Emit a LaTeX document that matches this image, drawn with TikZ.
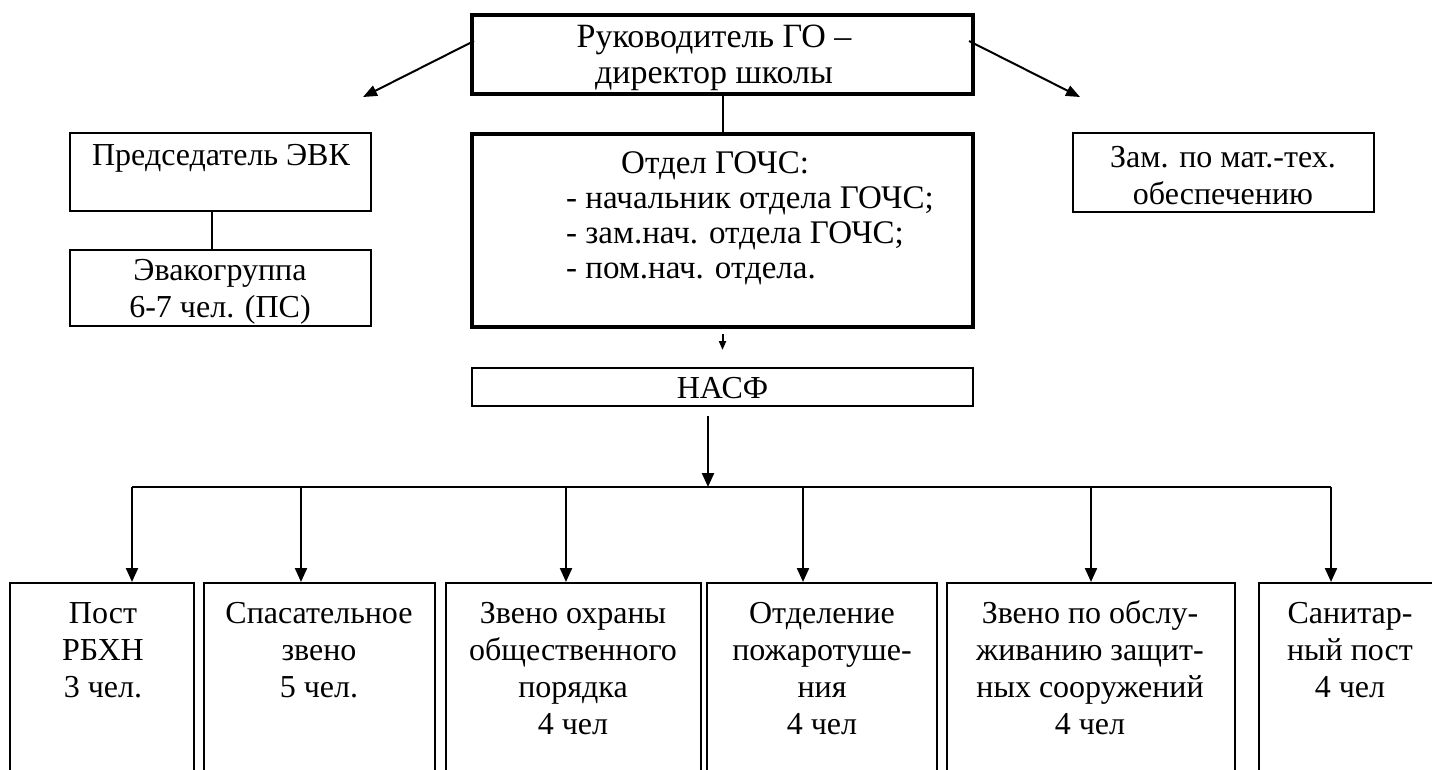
\documentclass[tikz,border=0pt]{standalone}
\usepackage{fontspec}
\setmainfont{Liberation Serif}
\usetikzlibrary{arrows.meta}
\begin{document}
\begin{tikzpicture}[x=1pt,y=-1pt,
  txt/.style={font=\fontsize{32}{37}\selectfont, inner sep=0pt, align=center},
  bigtxt/.style={font=\fontsize{34}{36}\selectfont, inner sep=0pt, align=center},
  midtxt/.style={font=\fontsize{33}{35}\selectfont, inner sep=0pt, align=left},
  thickbox/.style={draw, line width=4pt, inner sep=0pt},
  thinbox/.style={draw, line width=2pt, inner sep=0pt},
  conn/.style={line width=2pt},
  arr/.style={line width=2pt, -{Triangle[length=14pt,width=11pt]}},
  darr/.style={line width=2.2pt, -{Triangle[length=14pt,width=12pt]}},
  sarr/.style={line width=2pt, -{Triangle[length=9pt,width=7pt]}},
]
\useasboundingbox (0,0) rectangle (1432,769);
\clip (0,0) rectangle (1432,769);

% top level
\node[thickbox, minimum width=501pt, minimum height=79pt] (ruk) at (722.5,54.5) {};
\node[bigtxt, anchor=north] (rukt) at (714,22.3) {\strut Руководитель ГО –\\директор школы};

\node[thickbox, minimum width=501pt, minimum height=193pt] (otd) at (722.5,230.5) {};
\node[midtxt, anchor=north west] (otdt) at (566,148.3)
  {\strut\hspace*{55pt}Отдел ГОЧС:\\- начальник отдела ГОЧС;\\- зам.нач. отдела ГОЧС;\\- пом.нач. отдела.};

\node[thinbox, minimum width=301pt, minimum height=78pt] (evk) at (220.5,172) {};
\node[txt, anchor=north] (evkt) at (221,139.3) {\strut Председатель ЭВК};
\node[thinbox, minimum width=301pt, minimum height=76pt] (evg) at (220.5,288) {};
\node[txt, anchor=north] (evgt) at (220,254.3) {\strut Эвакогруппа\\6-7 чел. (ПС)};

\node[thinbox, minimum width=301pt, minimum height=79pt] (zam) at (1223.5,172.5) {};
\node[txt, anchor=north] (zamt) at (1223,141.3) {\strut Зам. по мат.-тех.\\обеспечению};

\node[thinbox, minimum width=501pt, minimum height=38pt] (nasf) at (722.5,387) {};
\node[txt] (nasft) at (722.5,388) {НАСФ};

% bottom boxes (open at the bottom)
\node[thinbox, minimum width=184pt, minimum height=217pt] (b1) at (102,691.5) {};
\node[thinbox, minimum width=231pt, minimum height=217pt] (b2) at (319.5,691.5) {};
\node[thinbox, minimum width=255pt, minimum height=217pt] (b3) at (573.5,691.5) {};
\node[thinbox, minimum width=230pt, minimum height=217pt] (b4) at (822,691.5) {};
\node[thinbox, minimum width=288pt, minimum height=217pt] (b5) at (1091,691.5) {};
\node[thinbox, minimum width=190pt, minimum height=217pt] (b6) at (1354,691.5) {};

\node[txt, anchor=north] (t1) at (103,597.3) {\strut Пост\\РБХН\\3 чел.};
\node[txt, anchor=north] (t2) at (319,597.3) {\strut Спасательное\\звено\\5 чел.};
\node[txt, anchor=north] (t3) at (573,597.3) {\strut Звено охраны\\общественного\\порядка\\4 чел};
\node[txt, anchor=north] (t4) at (822,597.3) {\strut Отделение\\пожаротуше-\\ния\\4 чел};
\node[txt, anchor=north] (t5) at (1090,597.3) {\strut Звено по обслу-\\живанию защит-\\ных сооружений\\4 чел};
\node[txt, anchor=north] (t6) at (1350,597.3) {\strut Санитар-\\ный пост\\4 чел};

% connectors
\draw[conn] (ruk.south) -- (otd.north);
\draw[conn] ([xshift=-9pt]evk.south) -- ([xshift=-9pt]evg.north);

\coordinate (lend) at (363,97);
\coordinate (rend) at (1080,97);
\draw[arr] ([xshift=4pt,yshift=13.5pt]ruk.west) -- (lend);
\draw[arr] ([xshift=-6pt,yshift=13.5pt]ruk.east) -- (rend);

\draw[sarr] ([yshift=-5pt]otd.south) -- ([yshift=17pt]nasf.north);

\coordinate (bus) at (708,487);
\draw[darr] ([xshift=-14.5pt,yshift=-9pt]nasf.south) -- (bus);

\coordinate (d1) at (132,487);
\coordinate (d2) at (301,487);
\coordinate (d3) at (566,487);
\coordinate (d4) at (803,487);
\coordinate (d5) at (1091,487);
\coordinate (d6) at (1331,487);
\draw[conn] (d1) -- (d6);
\draw[darr] (d1) -- (d1 |- b1.north);
\draw[darr] (d2) -- (d2 |- b2.north);
\draw[darr] (d3) -- (d3 |- b3.north);
\draw[darr] (d4) -- (d4 |- b4.north);
\draw[darr] (d5) -- (d5 |- b5.north);
\draw[darr] (d6) -- (d6 |- b6.north);
\end{tikzpicture}
\end{document}
